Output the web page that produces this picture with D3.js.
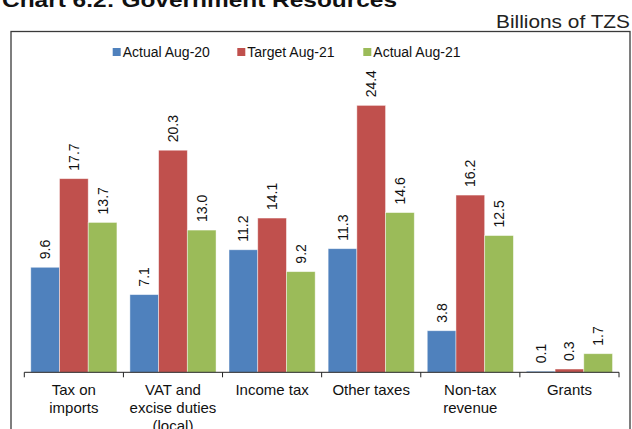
<!DOCTYPE html>
<html>
<head>
<meta charset="utf-8">
<script src="https://cdn.jsdelivr.net/npm/d3@7"></script>
<style>
  html, body { margin: 0; padding: 0; background: #fff; }
  svg { display: block; font-family: "Liberation Sans", Arial, sans-serif; }
</style>
</head>
<body>
<svg id="chart" width="632" height="429"></svg>
<script>
// Government resources by category, billions of TZS
const categories = [
  ["Tax on", "imports"],
  ["VAT and", "excise duties", "(local)"],
  ["Income tax"],
  ["Other taxes"],
  ["Non-tax", "revenue"],
  ["Grants"]
];
const seriesNames = ["Actual Aug-20", "Target Aug-21", "Actual Aug-21"];
const actualAug20 = [9.6, 7.1, 11.2, 11.3, 3.8, 0.1];
const targetAug21 = [17.7, 20.3, 14.1, 24.4, 16.2, 0.3];
const actualAug21 = [13.7, 13.0, 9.2, 14.6, 12.5, 1.7];
const seriesColors = ["#4F81BD", "#C0504D", "#9BBB59"];

const seriesValues = [actualAug20, targetAug21, actualAug21];
const catKeys = categories.map(c => c.join(" "));

const svg = d3.select("#chart");

// Title (partly above the page edge) and unit note
svg.append("text")
  .attr("x", 2).attr("y", 7)
  .attr("font-weight", "bold").attr("font-size", 21)
  .attr("textLength", 395).attr("lengthAdjust", "spacingAndGlyphs")
  .attr("fill", "#111")
  .text("Chart 6.2: Government Resources");

svg.append("text")
  .attr("x", 630).attr("y", 27.5)
  .attr("text-anchor", "end")
  .attr("font-size", 19)
  .attr("textLength", 134).attr("lengthAdjust", "spacingAndGlyphs")
  .attr("fill", "#222")
  .text("Billions of TZS");

// Chart frame
svg.append("rect")
  .attr("x", 11).attr("y", 31.5)
  .attr("width", 619).attr("height", 420)
  .attr("fill", "none")
  .attr("stroke", "#3a3a3a").attr("stroke-width", 1.3);

// Scales
const x0 = d3.scaleBand().domain(catKeys).range([24.3, 619]).padding(0);
const x1 = d3.scaleBand().domain(seriesNames).range([0, x0.bandwidth()])
  .paddingInner(0).paddingOuter(0.226);
const y = d3.scaleLinear().domain([0, 25]).range([372.3, 372.3 - 25 * 10.94]);

// Bars
const groups = svg.append("g").selectAll("g")
  .data(catKeys)
  .join("g")
  .attr("transform", d => `translate(${x0(d)},0)`);

const fmt = d3.format(".1f");

groups.each(function(cat, ci) {
  const g = d3.select(this);
  const rows = seriesNames.map((s, si) => ({ s, si, v: seriesValues[si][ci] }));
  g.selectAll("rect")
    .data(rows)
    .join("rect")
    .attr("x", d => x1(d.s))
    .attr("y", d => y(d.v))
    .attr("width", x1.bandwidth())
    .attr("height", d => y(0) - y(d.v))
    .attr("fill", d => seriesColors[d.si])
    .attr("stroke", "rgba(255,255,255,0.55)")
    .attr("stroke-width", 0.8);

  g.selectAll("text")
    .data(rows)
    .join("text")
    .attr("transform", d => `translate(${x1(d.s) + x1.bandwidth() / 2},${y(d.v) - 8}) rotate(-90)`)
    .attr("dy", "0.36em")
    .attr("font-size", 14)
    .attr("fill", "#111")
    .text(d => fmt(d.v));
});

// Category axis
const axis = svg.append("g");
axis.append("line")
  .attr("x1", 24.3).attr("x2", 619)
  .attr("y1", y(0)).attr("y2", y(0))
  .attr("stroke", "#222").attr("stroke-width", 1);

const tickPositions = catKeys.map(k => x0(k)).concat([x0(catKeys[catKeys.length - 1]) + x0.bandwidth()]);
axis.selectAll("line.tick")
  .data(tickPositions)
  .join("line")
  .attr("class", "tick")
  .attr("x1", d => d).attr("x2", d => d)
  .attr("y1", y(0)).attr("y2", y(0) + 5)
  .attr("stroke", "#222").attr("stroke-width", 1);

axis.selectAll("text.cat")
  .data(categories)
  .join("text")
  .attr("class", "cat")
  .attr("x", (d, i) => x0(catKeys[i]) + x0.bandwidth() / 2)
  .attr("y", 395)
  .attr("text-anchor", "middle")
  .attr("font-size", 15)
  .attr("fill", "#111")
  .each(function(lines) {
    const t = d3.select(this);
    const xPos = t.attr("x");
    lines.forEach((line, li) => {
      t.append("tspan").attr("x", xPos).attr("dy", li === 0 ? 0 : 18).text(line);
    });
  });

// Legend
const legendX = [112.7, 237.3, 363.3];
const legend = svg.append("g").selectAll("g")
  .data(seriesNames)
  .join("g")
  .attr("transform", (d, i) => `translate(${legendX[i]},48)`);
legend.append("rect")
  .attr("width", 8).attr("height", 8)
  .attr("fill", (d, i) => seriesColors[i]);
legend.append("text")
  .attr("x", 10).attr("y", 9)
  .attr("font-size", 14)
  .attr("fill", "#111")
  .text(d => d);
</script>
</body>
</html>
